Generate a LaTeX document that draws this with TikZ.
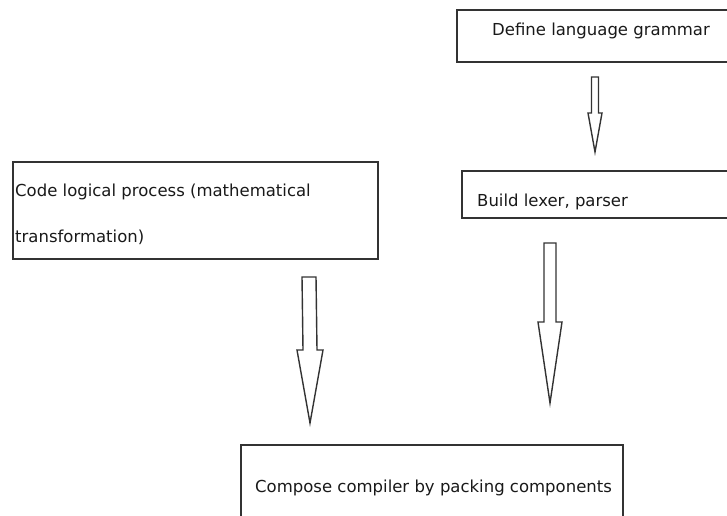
\documentclass[tikz,border=0pt]{standalone}
\usepackage{fontspec}
\setmainfont{DejaVu Sans}
\usepackage{tikz}
\usetikzlibrary{calc}

\tikzset{
	box/.style={draw=black!80, line width=1.5pt, rectangle, inner sep=0pt, anchor=north west},
	txt/.style={anchor=base west, inner sep=0pt, font=\fontsize{16.5}{20}\selectfont, text=black!90},
	hollow/.style={draw=black!80, line width=1.4pt, fill=white, line join=miter}
}

% hollow block arrow: start, tip, half shaft, half head, head length
\newcommand{\blockarr}[5]{
	\draw[hollow] ($(#1)+(-#3,0)$) -- ($(#2)+(-#3,-#5)$) -- ($(#2)+(-#4,-#5)$) -- (#2)
		-- ($(#2)+(#4,-#5)$) -- ($(#2)+(#3,-#5)$) -- ($(#1)+(#3,0)$) -- cycle;
}

\begin{document}
\begin{tikzpicture}[x=1pt,y=-1pt]
		\useasboundingbox (0,0) rectangle (727,515);
		\clip (0,0) rectangle (727,515);
		
		\node[box, minimum width=300pt, minimum height=52pt] (grammar) at (456,9) {};
		\node[box, minimum width=300pt, minimum height=47pt] (lexer) at (461,170) {};
		\node[box, minimum width=365pt, minimum height=97pt] (logic) at (12,161) {};
		\node[box, minimum width=382pt, minimum height=100pt] (compose) at (240,444) {};
		
		\node[txt] (grammartxt) at (492,35) {Define language grammar};
		\node[txt] (lexertxt) at (477,206) {Build lexer, parser};
		\node[txt] (logictxt1) at (15,196) {Code logical process (mathematical};
		\node[txt] (logictxt2) at (15,242) {transformation)};
		\node[txt] (composetxt) at (255,492) {Compose compiler by packing components};
		
		\coordinate (a1s) at (595,77);
		\coordinate (a1e) at (595,152);
		\coordinate (a2s) at (309,277);
		\coordinate (a2e) at (310,423);
		\coordinate (a3s) at (550,243);
		\coordinate (a3e) at (550,403);
		
		\blockarr{a1s}{a1e}{3.5}{7}{39}
		\blockarr{a2s}{a2e}{7}{13}{73}
		\blockarr{a3s}{a3e}{6}{12}{81}
\end{tikzpicture}
\end{document}
